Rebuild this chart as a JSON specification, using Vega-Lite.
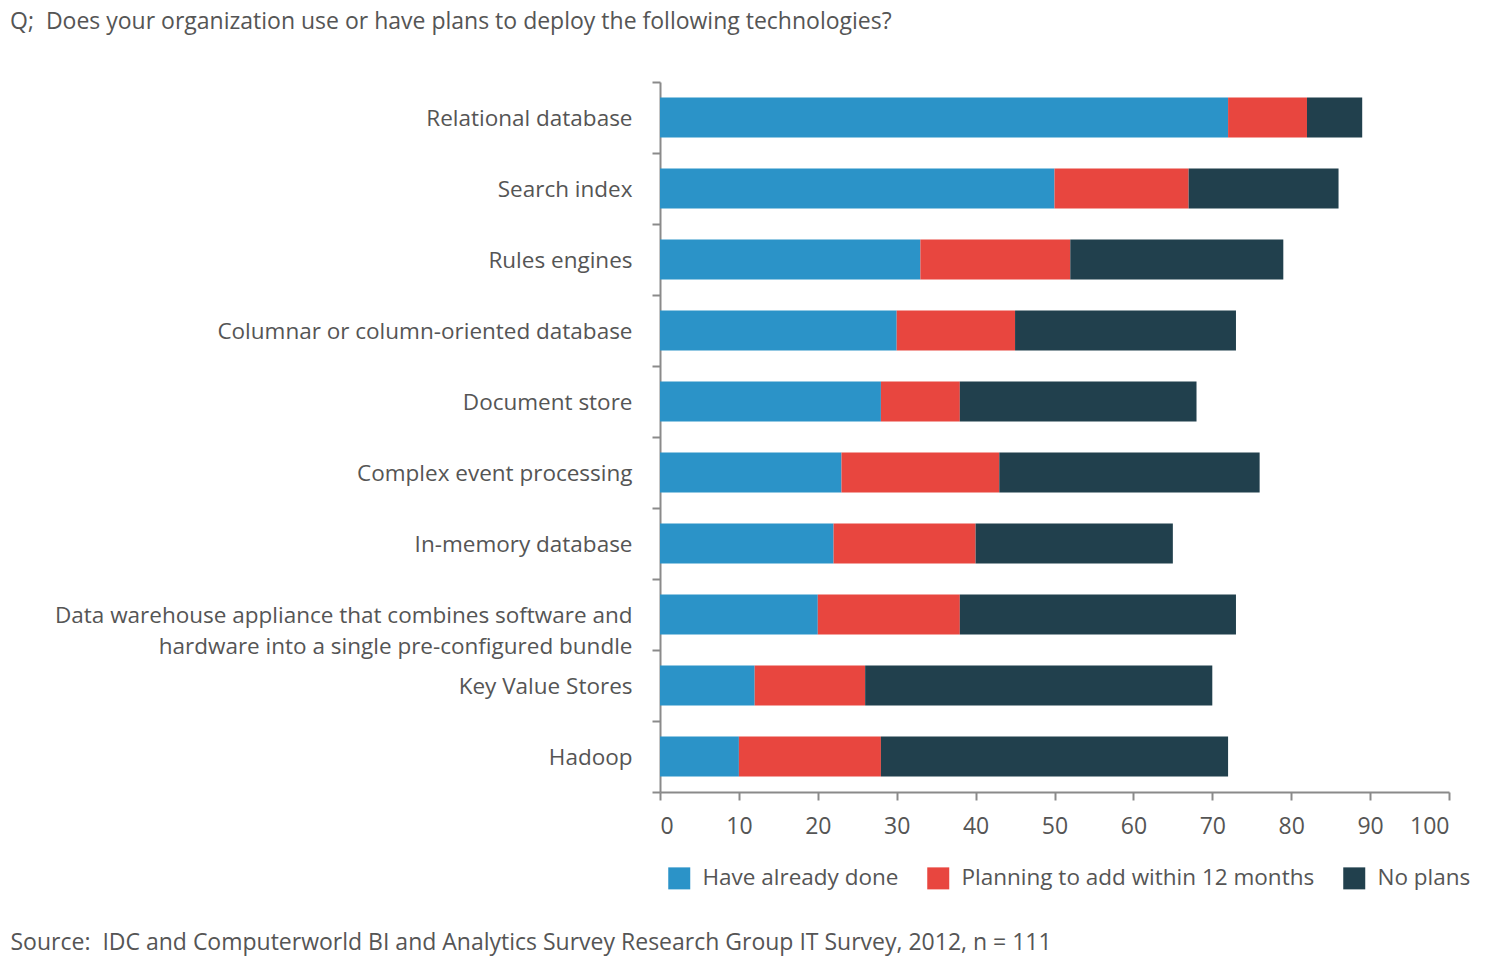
{
  "$schema": "https://vega.github.io/schema/vega-lite/v6.json",
  "autosize": "none",
  "width": 789,
  "height": 710,
  "padding": {"left": 660, "top": 82, "right": 46, "bottom": 175},
  "background": "white",
  "config": {
    "font": "Open Sans",
    "view": {"stroke": null}
  },
  "title": {
    "text": "Q;\u00a0 Does your organization use or have plans to deploy the following technologies?",
    "anchor": "start",
    "frame": "group",
    "dx": -650,
    "offset": 19,
    "baseline": "alphabetic",
    "fontSize": 23,
    "fontWeight": "normal",
    "color": "#555555"
  },
  "data": {
    "values": [
      {"tech": "Relational database", "status": "Have already done", "rank": 1, "value": 72},
      {"tech": "Relational database", "status": "Planning to add within 12 months", "rank": 2, "value": 10},
      {"tech": "Relational database", "status": "No plans", "rank": 3, "value": 7},
      {"tech": "Search index", "status": "Have already done", "rank": 1, "value": 50},
      {"tech": "Search index", "status": "Planning to add within 12 months", "rank": 2, "value": 17},
      {"tech": "Search index", "status": "No plans", "rank": 3, "value": 19},
      {"tech": "Rules engines", "status": "Have already done", "rank": 1, "value": 33},
      {"tech": "Rules engines", "status": "Planning to add within 12 months", "rank": 2, "value": 19},
      {"tech": "Rules engines", "status": "No plans", "rank": 3, "value": 27},
      {"tech": "Columnar or column-oriented database", "status": "Have already done", "rank": 1, "value": 30},
      {"tech": "Columnar or column-oriented database", "status": "Planning to add within 12 months", "rank": 2, "value": 15},
      {"tech": "Columnar or column-oriented database", "status": "No plans", "rank": 3, "value": 28},
      {"tech": "Document store", "status": "Have already done", "rank": 1, "value": 28},
      {"tech": "Document store", "status": "Planning to add within 12 months", "rank": 2, "value": 10},
      {"tech": "Document store", "status": "No plans", "rank": 3, "value": 30},
      {"tech": "Complex event processing", "status": "Have already done", "rank": 1, "value": 23},
      {"tech": "Complex event processing", "status": "Planning to add within 12 months", "rank": 2, "value": 20},
      {"tech": "Complex event processing", "status": "No plans", "rank": 3, "value": 33},
      {"tech": "In-memory database", "status": "Have already done", "rank": 1, "value": 22},
      {"tech": "In-memory database", "status": "Planning to add within 12 months", "rank": 2, "value": 18},
      {"tech": "In-memory database", "status": "No plans", "rank": 3, "value": 25},
      {"tech": "Data warehouse appliance that combines software and|hardware into a single pre-configured bundle", "status": "Have already done", "rank": 1, "value": 20},
      {"tech": "Data warehouse appliance that combines software and|hardware into a single pre-configured bundle", "status": "Planning to add within 12 months", "rank": 2, "value": 18},
      {"tech": "Data warehouse appliance that combines software and|hardware into a single pre-configured bundle", "status": "No plans", "rank": 3, "value": 35},
      {"tech": "Key Value Stores", "status": "Have already done", "rank": 1, "value": 12},
      {"tech": "Key Value Stores", "status": "Planning to add within 12 months", "rank": 2, "value": 14},
      {"tech": "Key Value Stores", "status": "No plans", "rank": 3, "value": 44},
      {"tech": "Hadoop", "status": "Have already done", "rank": 1, "value": 10},
      {"tech": "Hadoop", "status": "Planning to add within 12 months", "rank": 2, "value": 18},
      {"tech": "Hadoop", "status": "No plans", "rank": 3, "value": 44}
    ]
  },
  "mark": {"type": "bar", "height": {"band": 0.565}},
  "encoding": {
    "y": {
      "field": "tech",
      "type": "nominal",
      "sort": null,
      "scale": {"paddingInner": 0, "paddingOuter": 0},
      "axis": {
        "title": null,
        "labelExpr": "split(datum.label, '|')",
        "labelFontSize": 22.5,
        "labelColor": "#555555",
        "labelLineHeight": 31,
        "labelPadding": 20,
        "labelOffset": 1,
        "tickBand": "extent",
        "tickSize": 8,
        "tickColor": "#8a8a8a",
        "tickWidth": 2,
        "domainColor": "#8a8a8a",
        "domainWidth": 2,
        "labelLimit": 700
      }
    },
    "x": {
      "field": "value",
      "type": "quantitative",
      "stack": "zero",
      "scale": {"domain": [0, 100], "nice": false},
      "axis": {
        "title": "Source:\u00a0 IDC and Computerworld BI and Analytics Survey Research Group IT Survey, 2012, n = 111",
        "titleX": -650,
        "titleY": 157,
        "titleAlign": "left",
        "titleAnchor": "start",
        "titleBaseline": "alphabetic",
        "titleFontSize": 23,
        "titleFontWeight": "normal",
        "titleColor": "#555555",
        "values": [0, 10, 20, 30, 40, 50, 60, 70, 80, 90, 100],
        "grid": false,
        "labelFontSize": 23,
        "labelColor": "#555555",
        "labelPadding": 15,
        "tickSize": 8,
        "tickColor": "#8a8a8a",
        "tickWidth": 2,
        "domainColor": "#8a8a8a",
        "domainWidth": 2
      }
    },
    "color": {
      "field": "status",
      "type": "nominal",
      "sort": ["Have already done", "Planning to add within 12 months", "No plans"],
      "scale": {
        "domain": ["Have already done", "Planning to add within 12 months", "No plans"],
        "range": ["#2b93c8", "#e8463f", "#21404d"]
      },
      "legend": {
        "title": null,
        "orient": "none",
        "direction": "horizontal",
        "legendX": 8,
        "legendY": 785,
        "symbolType": "square",
        "symbolSize": 484,
        "symbolStrokeWidth": 0,
        "symbolOpacity": 1,
        "labelFontSize": 22.5,
        "labelColor": "#555555",
        "labelOffset": 12,
        "columnPadding": 28,
        "labelLimit": 500
      }
    },
    "order": {"field": "rank", "type": "quantitative", "sort": "ascending"}
  }
}
